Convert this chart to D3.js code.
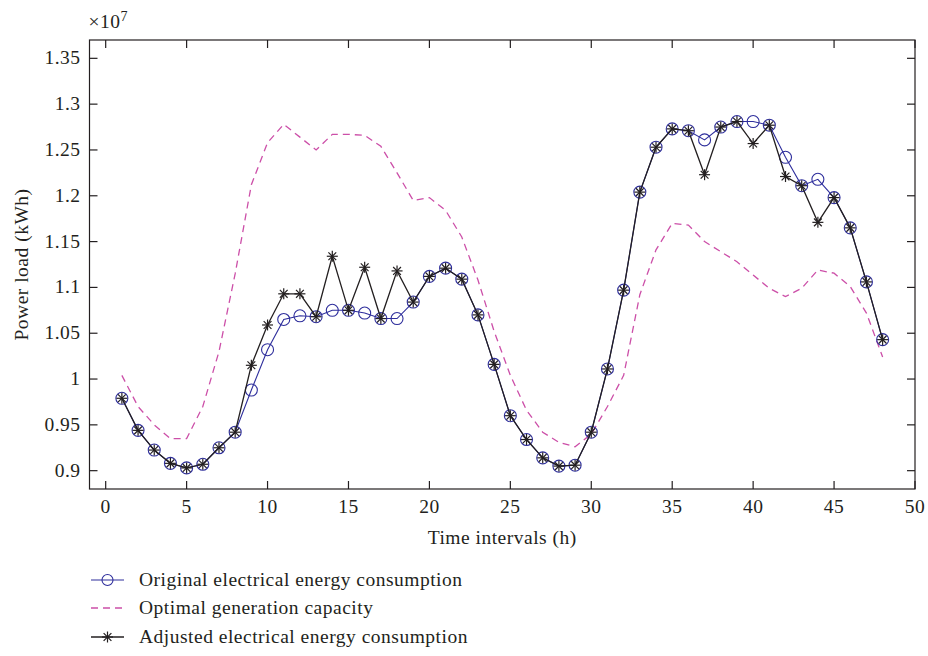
<!DOCTYPE html>
<html>
<head>
<meta charset="utf-8">
<script src="https://cdn.jsdelivr.net/npm/d3@7"></script>
<style>
  body { margin: 0; background: #fff; }
  text { font-family: "Liberation Serif", "DejaVu Serif", serif; fill: #231f20; letter-spacing: 0.5px; }
</style>
</head>
<body>
<svg id="chart"></svg>
<script>
// Data (values in units of 1e7 kWh)
const hours = d3.range(1, 49);
const original = [0.979, 0.944, 0.9225, 0.908, 0.903, 0.907, 0.925, 0.942, 0.988, 1.032,
  1.065, 1.069, 1.068, 1.075, 1.075, 1.072, 1.066, 1.066, 1.084, 1.112,
  1.121, 1.109, 1.070, 1.016, 0.960, 0.934, 0.914, 0.905, 0.906, 0.942,
  1.011, 1.097, 1.204, 1.253, 1.273, 1.271, 1.261, 1.275, 1.281, 1.281,
  1.277, 1.242, 1.211, 1.218, 1.198, 1.165, 1.106, 1.043];
const optimal = [1.004, 0.970, 0.950, 0.935, 0.935, 0.970, 1.030, 1.115, 1.212, 1.258,
  1.278, 1.264, 1.250, 1.267, 1.267, 1.266, 1.254, 1.225, 1.195, 1.198,
  1.184, 1.155, 1.108, 1.052, 1.004, 0.966, 0.942, 0.931, 0.926, 0.940,
  0.970, 1.004, 1.092, 1.141, 1.170, 1.168, 1.150, 1.139, 1.128, 1.1135,
  1.099, 1.090, 1.099, 1.119, 1.1155, 1.101, 1.072, 1.024];
const adjusted = [0.979, 0.944, 0.9225, 0.908, 0.903, 0.907, 0.925, 0.942, 1.015, 1.059,
  1.093, 1.093, 1.068, 1.134, 1.075, 1.122, 1.066, 1.118, 1.084, 1.112,
  1.121, 1.109, 1.070, 1.016, 0.960, 0.934, 0.914, 0.905, 0.906, 0.942,
  1.011, 1.097, 1.204, 1.253, 1.273, 1.271, 1.223, 1.275, 1.281, 1.257,
  1.277, 1.221, 1.211, 1.171, 1.198, 1.165, 1.106, 1.043];
const xTicks = [0, 5, 10, 15, 20, 25, 30, 35, 40, 45, 50];
const yTicks = [0.9, 0.95, 1, 1.05, 1.1, 1.15, 1.2, 1.25, 1.3, 1.35];
const legendLabels = ["Original electrical energy consumption", "Optimal generation capacity", "Adjusted electrical energy consumption"];

const width = 928, height = 656;
const margin = { top: 40, right: 13, bottom: 167, left: 89.5 };
const blue = "#2e2e9c", pink = "#cc4fa8", black = "#231f20";
const fs = 19.5;

const svg = d3.select("#chart").attr("width", width).attr("height", height);

const x = d3.scaleLinear().domain([-1, 50]).range([margin.left, width - margin.right]);
const y = d3.scaleLinear().domain([0.88, 1.37]).range([height - margin.bottom, margin.top]);

const x0 = margin.left, x1 = width - margin.right, y0 = height - margin.bottom, y1 = margin.top;

// Frame with inward ticks on all sides
const axes = svg.append("g").attr("stroke", black).attr("stroke-width", 1.2).attr("fill", "none");
axes.append("rect").attr("x", x0).attr("y", y1).attr("width", x1 - x0).attr("height", y0 - y1);
xTicks.forEach(t => {
  axes.append("line").attr("x1", x(t)).attr("x2", x(t)).attr("y1", y0).attr("y2", y0 - 8);
  axes.append("line").attr("x1", x(t)).attr("x2", x(t)).attr("y1", y1).attr("y2", y1 + 8);
});
yTicks.forEach(t => {
  axes.append("line").attr("x1", x0).attr("x2", x0 + 8).attr("y1", y(t)).attr("y2", y(t));
  axes.append("line").attr("x1", x1).attr("x2", x1 - 8).attr("y1", y(t)).attr("y2", y(t));
});

// Tick labels
svg.append("g").selectAll("text").data(xTicks).join("text")
  .attr("x", d => x(d)).attr("y", y0 + 24)
  .attr("text-anchor", "middle").attr("font-size", fs)
  .text(d => d);
svg.append("g").selectAll("text").data(yTicks).join("text")
  .attr("x", x0 - 9).attr("y", d => y(d) + 6)
  .attr("text-anchor", "end").attr("font-size", fs)
  .text(d => d3.format("")(d));

// Exponent
const expo = svg.append("text").attr("x", x0 - 1).attr("y", 28).attr("font-size", fs);
expo.append("tspan").text("\u00d710");
expo.append("tspan").attr("dy", -7).attr("font-size", 14).text("7");

// Axis titles
svg.append("text").attr("x", (x0 + x1) / 2).attr("y", y0 + 55)
  .attr("text-anchor", "middle").attr("font-size", fs).text("Time intervals (h)");
svg.append("text").attr("transform", `translate(28,${(y0 + y1) / 2}) rotate(-90)`)
  .attr("text-anchor", "middle").attr("font-size", fs).text("Power load (kWh)");

const line = d3.line().x((d, i) => x(hours[i])).y(d => y(d));

// Optimal generation capacity (dashed)
svg.append("path").datum(optimal).attr("d", line)
  .attr("fill", "none").attr("stroke", pink).attr("stroke-width", 1.3)
  .attr("stroke-dasharray", "7,5");

// Original consumption
svg.append("path").datum(original).attr("d", line)
  .attr("fill", "none").attr("stroke", blue).attr("stroke-width", 1.1);
svg.append("g").selectAll("circle").data(original).join("circle")
  .attr("cx", (d, i) => x(hours[i])).attr("cy", d => y(d)).attr("r", 6)
  .attr("fill", "none").attr("stroke", blue).attr("stroke-width", 1.1);

// Adjusted consumption
function star(g, cx, cy, r) {
  for (let k = 0; k < 4; k++) {
    const a = k * Math.PI / 4;
    g.append("line")
      .attr("x1", cx - r * Math.cos(a)).attr("y1", cy - r * Math.sin(a))
      .attr("x2", cx + r * Math.cos(a)).attr("y2", cy + r * Math.sin(a));
  }
}
svg.append("path").datum(adjusted).attr("d", line)
  .attr("fill", "none").attr("stroke", black).attr("stroke-width", 1.3);
const stars = svg.append("g").attr("stroke", black).attr("stroke-width", 1.2);
adjusted.forEach((d, i) => star(stars, x(hours[i]), y(d), 5.5));

// Legend
const legend = svg.append("g");
const rowY = [580, 608, 637];
legendLabels.forEach((label, i) => {
  const ly = rowY[i];
  const ln = legend.append("line").attr("x1", 91).attr("x2", 124).attr("y1", ly).attr("y2", ly);
  if (i === 0) {
    ln.attr("stroke", blue).attr("stroke-width", 1.1);
    legend.append("circle").attr("cx", 107.5).attr("cy", ly).attr("r", 5.5)
      .attr("fill", "none").attr("stroke", blue).attr("stroke-width", 1.1);
  } else if (i === 1) {
    ln.attr("stroke", pink).attr("stroke-width", 1.3).attr("stroke-dasharray", "7,5");
  } else {
    ln.attr("stroke", black).attr("stroke-width", 1.3);
    const sg = legend.append("g").attr("stroke", black).attr("stroke-width", 1.2);
    star(sg, 107.5, ly, 5.5);
  }
  legend.append("text").attr("x", 139).attr("y", ly + 6).attr("font-size", fs).text(label);
});
</script>
</body>
</html>
